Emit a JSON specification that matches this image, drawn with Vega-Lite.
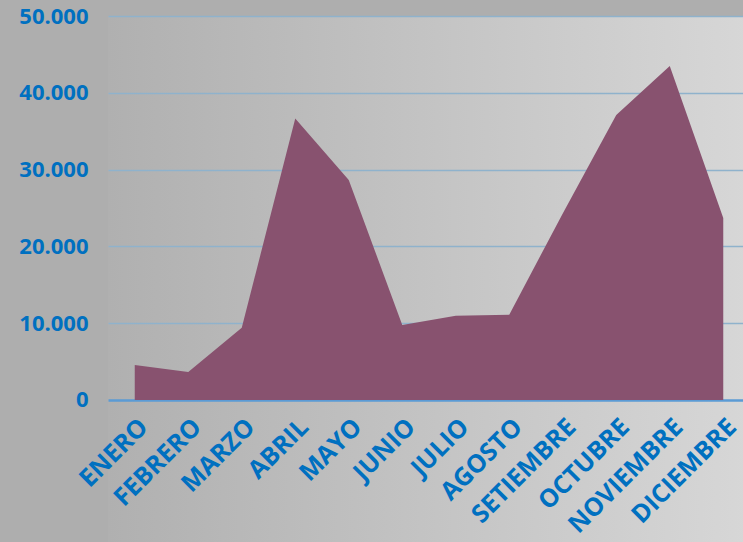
{
  "$schema": "https://vega.github.io/schema/vega-lite/v6.json",
  "autosize": {"type": "none"},
  "width": 642,
  "height": 526,
  "padding": {"left": 108, "top": 16, "right": 0, "bottom": 0},
  "background": "#AEAEAE",
  "config": {
    "view": {
      "stroke": null,
      "fill": {
        "gradient": "linear",
        "x1": 0, "y1": 0, "x2": 1, "y2": 0,
        "stops": [
          {"offset": 0, "color": "#B0B0B0"},
          {"offset": 1, "color": "#D7D7D7"}
        ]
      }
    },
    "font": "Open Sans"
  },
  "data": {
    "values": [
      {"mes": "ENERO", "valor": 4550},
      {"mes": "FEBRERO", "valor": 3650},
      {"mes": "MARZO", "valor": 9400},
      {"mes": "ABRIL", "valor": 36650},
      {"mes": "MAYO", "valor": 28650},
      {"mes": "JUNIO", "valor": 9770},
      {"mes": "JULIO", "valor": 10980},
      {"mes": "AGOSTO", "valor": 11100},
      {"mes": "SETIEMBRE", "valor": 24300},
      {"mes": "OCTUBRE", "valor": 37100},
      {"mes": "NOVIEMBRE", "valor": 43500},
      {"mes": "DICIEMBRE", "valor": 23700}
    ]
  },
  "mark": {"type": "area", "color": "#88526F", "opacity": 1},
  "encoding": {
    "x": {
      "field": "mes",
      "type": "ordinal",
      "sort": null,
      "scale": {"type": "point", "padding": 0.5},
      "axis": {
        "title": null,
        "labelAngle": -45,
        "labelFont": "Open Sans",
        "labelFontWeight": "bold",
        "labelFontSize": 25,
        "labelColor": "#0070C0",
        "ticks": false,
        "labelPadding": 14,
        "offset": -142,
        "domain": false,
        "grid": false
      }
    },
    "y": {
      "field": "valor",
      "type": "quantitative",
      "scale": {"domain": [-18490, 50000], "nice": false, "zero": false},
      "axis": {
        "title": null,
        "values": [0, 10000, 20000, 30000, 40000, 50000],
        "labelExpr": "replace(format(datum.value, ',d'), ',', '.')",
        "labelFont": "Open Sans",
        "labelFontWeight": "bold",
        "labelFontSize": 22,
        "labelColor": "#0070C0",
        "ticks": false,
        "labelPadding": 20,
        "domain": false,
        "grid": true,
        "gridColor": {"condition": {"test": "datum.value === 0", "value": "#5B9BD5"}, "value": "#8FB2CC"},
        "gridWidth": {"condition": {"test": "datum.value === 0", "value": 2.5}, "value": 1.5}
      }
    },
    "y2": {"datum": 0}
  }
}
